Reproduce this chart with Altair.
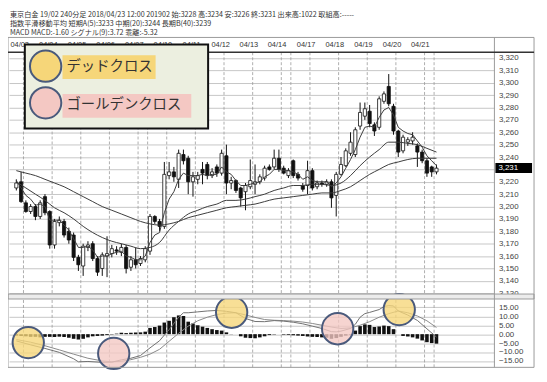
import altair as alt
import pandas as pd

# ---------------- data ----------------
opens = [3215,3220,3203,3196,3200,3192,3208,3196,3169,3187,
         3188,3180,3177,3159,3152,3167,3170,3158,3150,3160,
         3162,3165,3163,3167,3151,3157,3154,3157,3164,3192,
         3188,3184,3225,3228,3222,3242,3239,3220,3222,3230,
         3234,3225,3232,3227,3241,3219,3221,3215,3212,3216,
         3218,3220,3223,3232,3232,3239,3231,3225,3237,3226,
         3217,3217,3229,3216,3219,3218,3220,3209,3226,3233,
         3243,3242,3265,3273,3277,3266,3264,3285,3297,3281,
         3261,3245,3252,3253,3249,3244,3237,3232,3228]
highs = [3222,3228,3205,3202,3202,3205,3210,3197,3190,3192,
         3190,3183,3179,3161,3170,3172,3172,3160,3163,3176,
         3169,3168,3170,3169,3160,3167,3160,3168,3194,3193,
         3190,3236,3236,3232,3246,3246,3241,3228,3228,3236,
         3236,3231,3234,3246,3250,3224,3222,3216,3219,3238,
         3234,3226,3233,3234,3246,3246,3233,3231,3238,3228,
         3219,3237,3231,3221,3221,3222,3222,3228,3240,3247,
         3260,3264,3284,3284,3282,3268,3289,3293,3307,3283,
         3262,3258,3256,3260,3251,3246,3239,3233,3234]
lows = [3213,3203,3195,3194,3189,3190,3193,3166,3166,3184,
        3175,3170,3156,3148,3144,3164,3156,3144,3144,3143,
        3159,3161,3160,3146,3148,3150,3152,3155,3161,3186,
        3180,3182,3222,3220,3215,3234,3210,3208,3218,3218,
        3222,3223,3224,3225,3210,3214,3211,3200,3197,3214,
        3210,3218,3221,3229,3230,3228,3226,3223,3223,3221,
        3212,3210,3213,3214,3216,3216,3199,3192,3225,3232,
        3241,3240,3262,3270,3264,3257,3262,3283,3281,3258,
        3240,3243,3249,3250,3232,3235,3224,3224,3226]
closes = [3219,3204,3196,3200,3192,3203,3195,3169,3188,3189,
          3177,3173,3159,3153,3168,3169,3158,3147,3161,3162,
          3166,3164,3167,3150,3157,3153,3158,3166,3192,3188,
          3184,3226,3228,3224,3243,3237,3220,3224,3225,3227,
          3225,3228,3227,3243,3219,3221,3213,3207,3217,3221,
          3220,3224,3231,3230,3239,3230,3227,3229,3225,3223,
          3214,3229,3215,3219,3218,3220,3207,3226,3234,3245,
          3252,3262,3276,3279,3267,3261,3287,3291,3283,3261,
          3244,3256,3254,3256,3244,3237,3227,3228,3231]
bars = list(range(len(closes)))

ema5 = [3221,3215,3209,3206,3201,3202,3200,3189,3189,3189,
        3185,3181,3174,3167,3167,3168,3165,3159,3160,3160,
        3162,3163,3164,3160,3159,3157,3157,3160,3171,3177,
        3179,3195,3206,3212,3222,3227,3225,3225,3225,3226,
        3225,3226,3226,3232,3228,3226,3221,3217,3217,3218,
        3219,3220,3224,3226,3230,3230,3229,3229,3228,3226,
        3222,3224,3221,3220,3220,3220,3216,3219,3224,3231,
        3238,3246,3256,3264,3265,3264,3272,3278,3280,3274,
        3264,3261,3259,3258,3253,3248,3241,3237,3233]
slow_idx = list(range(0, 89, 2))
ema20 = [3220,3215,3210,3205,3199,3195,3190,3184,3179,3175,
         3172,3170,3168,3166,3167,3171,3181,3188,3194,3197,
         3200,3202,3205,3205,3206,3208,3210,3213,3215,3217,
         3217,3218,3218,3217,3219,3225,3233,3240,3246,3252,
         3252,3251,3250,3247,3244]
ema40 = [3229,3227,3225,3222,3219,3216,3212,3208,3204,3200,
         3197,3194,3191,3188,3186,3185,3186,3188,3191,3193,
         3195,3197,3199,3200,3201,3202,3204,3206,3207,3208,
         3209,3210,3211,3211,3213,3216,3221,3226,3230,3234,
         3236,3238,3239,3239,3239]

hist = [-0.8,-1.0,-1.2,-1.5,-1.5,-1.8,-1.5,-1.5,-1.6,-1.4,
        -1.6,-2.0,-2.6,-3.0,-2.6,-1.8,-1.2,-1.0,-0.8,-0.5,
        -0.2,0.3,0.8,0.6,0.8,0.9,1.0,1.4,3.5,4.0,
        4.8,6.5,7.5,9.5,10.5,10.2,7.0,6.0,5.0,4.2,
        3.5,2.8,2.3,2.0,1.0,0.1,0.0,-1.2,-2.0,-2.2,
        -2.3,-1.8,-1.2,-0.5,-0.2,0.0,-0.3,-0.4,-0.6,-0.8,
        -1.0,-1.3,-1.5,-1.6,-1.8,-2.0,-2.6,-2.2,-1.5,-0.8,
        -0.3,2.0,4.5,5.5,5.2,4.0,4.3,4.8,4.5,2.8,
        0.0,-1.0,-1.3,-1.8,-2.5,-3.5,-4.5,-5.0,-5.32]
signal_idx = [0,3,6,9,12,15,18,20,22,24,26,28,30,32,34,36,38,40,42,44,46,
              48,50,52,54,56,58,60,62,64,66,68,70,72,74,76,78,80,82,84,86,88]
signal = [-3.0,-4.5,-6.5,-8.8,-11.2,-13.5,-15.0,-15.5,-15.2,-14.3,-13.0,-11.2,
          -8.5,-4.0,0.5,4.5,7.5,9.5,11.0,11.8,12.0,10.8,9.4,8.2,7.8,7.6,7.3,
          6.8,6.0,5.0,4.0,3.2,3.5,5.0,7.0,9.5,11.5,13.0,12.0,10.2,7.5,3.72]
macd_idx = [0,3,6,9,12,13,15,18,20,22,24,26,27,28,30,31,32,34,35,36,38,40,42,
            44,46,48,50,52,54,56,58,60,62,64,66,67,68,70,71,72,73,74,76,77,78,
            79,80,82,84,86,88]
macd = [-3.8,-6.0,-8.0,-10.2,-13.8,-15.5,-15.3,-15.8,-15.7,-14.4,-13.5,-12.0,
        -9.8,-7.7,-3.7,-0.5,2.5,9.5,12.0,12.0,12.5,13.0,13.3,12.8,12.0,8.8,7.1,
        7.0,7.6,7.3,6.7,5.8,4.5,3.2,1.4,1.3,1.7,3.2,5.5,9.5,11.5,12.2,13.8,15.5,
        16.0,15.8,13.0,10.7,7.7,3.0,-1.6]

day_breaks = [1.5,7.5,13.5,19.5,25.5,27.5,31.5,37.5,43.5,49.5,55.5,57.5,
              61.5,67.5,73.5,79.5,85.5,87.5]
date_labels = ["04/03","04/04","04/05","04/06","04/07","04/10","04/11","04/12",
               "04/13","04/14","04/17","04/18","04/19","04/20","04/21"]
date_label_pos = [0.7,6.7,12.7,18.7,24.7,30.7,36.7,42.8,48.7,54.6,60.7,66.7,
                  72.7,78.7,84.6]

price_ticks = list(range(3130, 3321, 10))
macd_ticks = [-15, -10, -5, 0, 5, 10, 15]

cross_bar = [2.5, 20.4, 45.1, 67.3, 80.2]
cross_value = [-4.7, -10.8, 12.3, 3.05, 13.8]
cross_kind = ["デッドクロス", "ゴールデンクロス", "デッドクロス", "ゴールデンクロス", "デッドクロス"]

header_lines = [
    "東京白金 19/02 240分足 2018/04/23 12:00 201902 始:3228 高:3234 安:3226 終:3231 出来高:1022 取組高:-----",
    "指数平滑移動平均 短期A(5):3233 中期(20):3244 長期B(40):3239",
    "MACD MACD:-1.60 シグナル(9):3.72 乖離:-5.32",
]
legend_names = ["デッドクロス", "ゴールデンクロス"]

# ---------------- scales / axes ----------------
W, H = 490, 318
YELLOW, PINK, RING = "#F6D679", "#F4C8C3", "#4a5a7c"
JP = "Noto Sans CJK JP"
last_close = closes[-1]

x_scale = alt.Scale(domain=[-0.5, 99.1], nice=False, zero=False)
price_scale = alt.Scale(domain=[3127.76, 3324.56], range=[246, 0], nice=False, zero=False)
macd_scale = alt.Scale(domain=[-18.6, 19.72], range=[318, 249], nice=False, zero=False)
axis_common = dict(orient="right", grid=True, gridColor="#c6c6c6", gridWidth=1,
                   ticks=False, domain=False, labelPadding=4, labelFontSize=8,
                   labelColor="#444", labelFont="Liberation Sans", title=None,
                   labelOverlap=False)
# the price label nearest the last close is replaced by the black current-price tag
price_axis = alt.Axis(values=price_ticks, format=",d",
                      labelExpr=f"abs(datum.value - {last_close}) < 5 ? '' : datum.label",
                      **axis_common)
macd_axis = alt.Axis(values=macd_ticks, format=".2f", **axis_common)


def X(f):
    return alt.X(f, type="quantitative", scale=x_scale, axis=None)


def PY(f):
    return alt.Y(f, type="quantitative", scale=price_scale, axis=price_axis)


def MY(f):
    return alt.Y(f, type="quantitative", scale=macd_scale, axis=macd_axis)


df_c = pd.DataFrame({"i": bars, "open": opens, "high": highs, "low": lows, "close": closes})
df_e5 = pd.DataFrame({"i": bars, "v": ema5})
df_e20 = pd.DataFrame({"i": slow_idx, "v": ema20})
df_e40 = pd.DataFrame({"i": slow_idx, "v": ema40})
df_h = pd.DataFrame({"i": bars, "h": hist})
df_sig = pd.DataFrame({"i": signal_idx, "v": signal})
df_macd = pd.DataFrame({"i": macd_idx, "v": macd})
df_days = pd.DataFrame({"b": day_breaks})
df_dates = pd.DataFrame({"pos": date_label_pos, "lab": date_labels})
df_x = pd.DataFrame({"i": cross_bar, "m": cross_value, "kind": cross_kind})
df_last = pd.DataFrame({"p": [last_close], "lab": [f"{last_close:,}"]})
one = pd.DataFrame({"k": [0]})

# ---------------- layers ----------------
vrules = alt.Chart(df_days).mark_rule(color="#9a9a9a", strokeWidth=0.8, strokeDash=[3, 2]).encode(
    x=X("b"), y=alt.value(0), y2=alt.value(H))

cb = alt.Chart(df_c)
wick = cb.mark_rule(color="#111", strokeWidth=1).encode(x=X("i"), y=PY("low"), y2=alt.Y2("high"))
body = cb.mark_bar(size=3.2, stroke="#111", strokeWidth=0.8).encode(
    x=X("i"), y=PY("open"), y2=alt.Y2("close"),
    fill=alt.condition("datum.close >= datum.open", alt.value("#ffffff"), alt.value("#111111")))
e40 = alt.Chart(df_e40).mark_line(color="#3c3c3c", strokeWidth=1, interpolate="monotone").encode(x=X("i"), y=PY("v"))
e20 = alt.Chart(df_e20).mark_line(color="#3c3c3c", strokeWidth=1, interpolate="monotone").encode(x=X("i"), y=PY("v"))
e5 = alt.Chart(df_e5).mark_line(color="#3c3c3c", strokeWidth=1).encode(x=X("i"), y=PY("v"))
lastbox = alt.Chart(df_last).transform_calculate(top="datum.p + 4.2", bot="datum.p - 4.0").mark_rect(
    color="#000").encode(x=alt.value(491), x2=alt.value(528), y=PY("top"), y2=alt.Y2("bot"))
lasttext = alt.Chart(df_last).mark_text(align="left", baseline="middle", fontSize=8,
                                        font="Liberation Sans", color="white").encode(
    x=alt.value(494), y=PY("p"), text="lab:N")
price_layer = alt.layer(wick, body, e40, e20, e5, lastbox, lasttext)

histbar = alt.Chart(df_h).mark_bar(size=3.6, color="#111").encode(x=X("i"), y=MY("h"), y2=alt.datum(0))
sigline = alt.Chart(df_sig).mark_line(color="#8a8a8a", strokeWidth=1).encode(x=X("i"), y=MY("v"))
macdline = alt.Chart(df_macd).mark_line(color="#707070", strokeWidth=1).encode(x=X("i"), y=MY("v"))
circles = alt.Chart(df_x).mark_point(shape="circle", filled=True, size=1000, stroke=RING, strokeWidth=2,
                                     opacity=1, fillOpacity=0.78, strokeOpacity=1).encode(
    x=X("i"), y=MY("m"),
    fill=alt.Fill("kind:N", scale=alt.Scale(domain=legend_names, range=[YELLOW, PINK]), legend=None))
macd_layer = alt.layer(histbar, sigline, macdline, circles)

d = alt.Chart(one)
sep = d.mark_rect(fill="#ececec", stroke="#9a9a9a", strokeWidth=1).encode(
    x=alt.value(-1), x2=alt.value(530), y=alt.value(244), y2=alt.value(249))
frame = d.mark_rect(fillOpacity=0, stroke="#9a9a9a", strokeWidth=1).encode(
    x=alt.value(-1), x2=alt.value(530), y=alt.value(-15), y2=alt.value(H))
vline = d.mark_rule(color="#9a9a9a", strokeWidth=1).encode(x=alt.value(490), y=alt.value(-15), y2=alt.value(H))
topline = d.mark_rule(color="#333", strokeWidth=1.5).encode(x=alt.value(-1), x2=alt.value(530), y=alt.value(0))
dates = alt.Chart(df_dates).mark_text(fontSize=7.5, font="Liberation Sans", color="#333",
                                      baseline="middle").encode(x=X("pos"), y=alt.value(-7), text="lab:N")

box = d.mark_rect(fill="#ECEFE0", stroke="#111", strokeWidth=2).encode(
    x=alt.value(16), x2=alt.value(201), y=alt.value(-8), y2=alt.value(77))
hl_y = d.mark_rect(fill=YELLOW).encode(x=alt.value(54), x2=alt.value(148), y=alt.value(3), y2=alt.value(27))
hl_p = d.mark_rect(fill=PINK).encode(x=alt.value(54), x2=alt.value(184), y=alt.value(42), y2=alt.value(66))
lc_y = d.mark_point(shape="circle", filled=True, size=1000, stroke=RING, strokeWidth=2, opacity=1,
                    fill=YELLOW).encode(x=alt.value(37), y=alt.value(14))
lc_p = d.mark_point(shape="circle", filled=True, size=1000, stroke=RING, strokeWidth=2, opacity=1,
                    fill=PINK).encode(x=alt.value(37), y=alt.value(51))
lt_y = d.mark_text(align="left", baseline="middle", fontSize=14.5, font=JP, color="#333").encode(
    x=alt.value(58), y=alt.value(15), text=alt.value(legend_names[0]))
lt_p = d.mark_text(align="left", baseline="middle", fontSize=14.5, font=JP, color="#333").encode(
    x=alt.value(58), y=alt.value(53), text=alt.value(legend_names[1]))

headers = [d.mark_text(align="left", baseline="middle", fontSize=7.2, font=JP, color="#333").encode(
    x=alt.value(1), y=alt.value(yy), text=alt.value(t))
    for t, yy in zip(header_lines, [-37.5, -28.3, -19.2])]

chart = alt.layer(
    vrules, price_layer, macd_layer, sep, frame, vline, topline, dates,
    box, hl_y, hl_p, lc_y, lc_p, lt_y, lt_p, *headers
).resolve_scale(y="independent").properties(
    width=W, height=H,
    autosize=alt.AutoSizeParams(type="none"),
    padding={"left": 1, "top": 43, "right": 45, "bottom": 6},
    background="white",
).configure_view(strokeWidth=0)

chart.save("out.html", embed_options={"renderer": "svg", "actions": False})
